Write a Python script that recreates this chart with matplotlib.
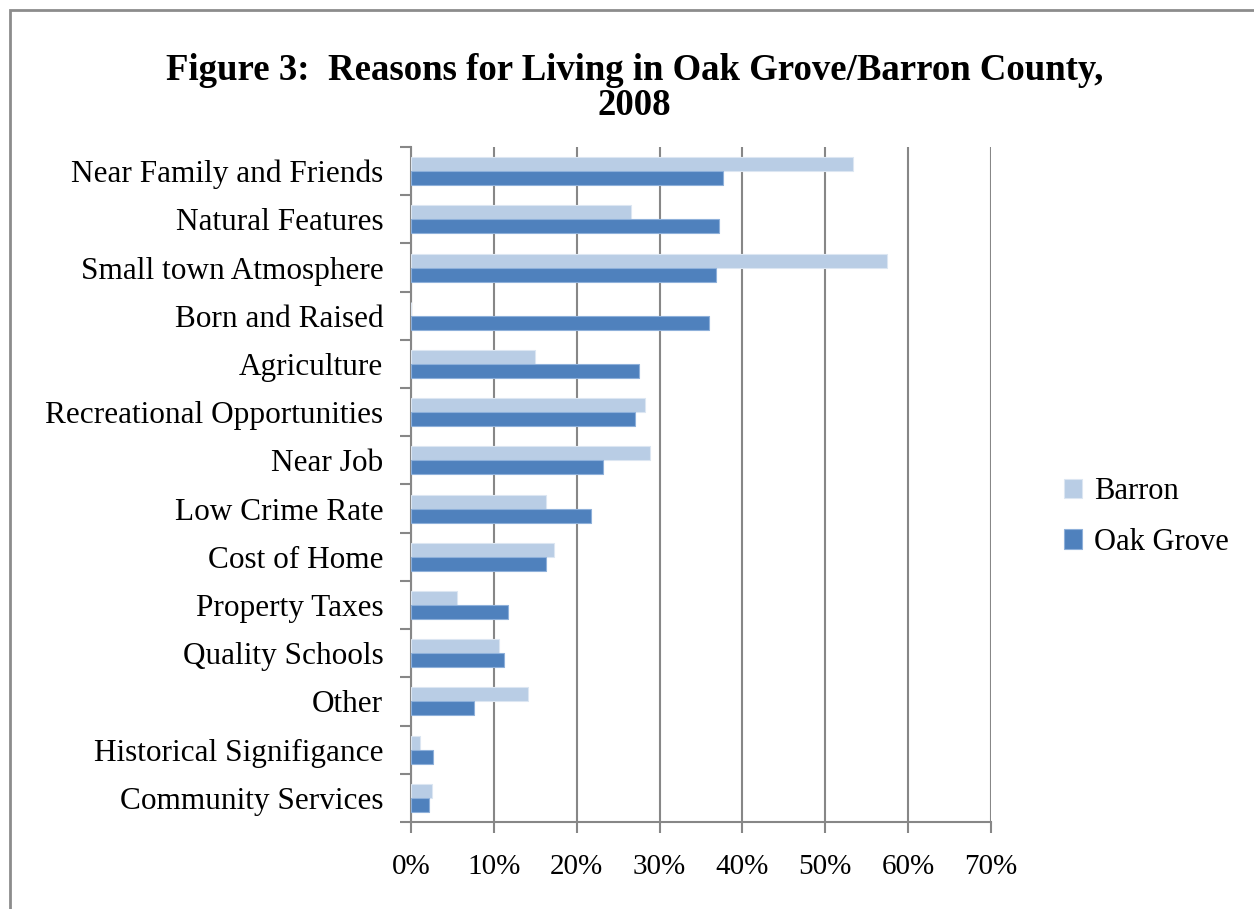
import numpy as np
import matplotlib.pyplot as plt
from matplotlib.patches import Rectangle

plt.rcParams['font.family'] = ['Liberation Serif', 'DejaVu Serif']

categories = ["Near Family and Friends", "Natural Features", "Small town Atmosphere",
              "Born and Raised", "Agriculture", "Recreational Opportunities", "Near Job",
              "Low Crime Rate", "Cost of Home", "Property Taxes", "Quality Schools",
              "Other", "Historical Signifigance", "Community Services"]
barron = [53.3, 26.6, 57.5, 0.0, 14.9, 28.2, 28.8, 16.3, 17.3, 5.6, 10.6, 14.1, 1.1, 2.5]
oak_grove = [37.6, 37.2, 36.8, 36.0, 27.5, 27.0, 23.2, 21.7, 16.3, 11.7, 11.2, 7.6, 2.7, 2.2]
xticks = [0, 10, 20, 30, 40, 50, 60, 70]

fig = plt.figure(figsize=(12.54, 9.09), dpi=100)
ax = fig.add_axes([0.3278, 0.0957, 0.4625, 0.7426])

y = np.arange(len(categories))
h = 0.29
ax.barh(y - h / 2, barron, height=h, color='#B9CDE5', edgecolor='#DCE6F2', linewidth=0.8, label='Barron', zorder=3)
ax.barh(y + h / 2, oak_grove, height=h, color='#4F81BD', edgecolor='#8EB0DA', linewidth=0.8, label='Oak Grove', zorder=3)

ax.set_ylim(len(categories) - 0.5, -0.5)
ax.set_xlim(0, 70)
ax.set_yticks(y)
ax.set_yticklabels(categories, fontsize=22.5)
ax.set_yticks(np.arange(len(categories) + 1) - 0.5, minor=True)
ax.tick_params(axis='y', which='major', length=0, pad=20)
ax.tick_params(axis='y', which='minor', length=8, width=1.5, color='#878787')
ax.set_xticks(xticks)
ax.set_xticklabels([f"{t}%" for t in xticks], fontsize=21)
ax.tick_params(axis='x', length=8, width=1.5, color='#878787', pad=15)

ax.grid(axis='x', color='#878787', linewidth=1.5, zorder=0)
for s in ['top', 'right']:
    ax.spines[s].set_visible(False)
for s in ['left', 'bottom']:
    ax.spines[s].set_color('#878787')
    ax.spines[s].set_linewidth(1.5)

fig.text(0.506, 0.903, "Figure 3:  Reasons for Living in Oak Grove/Barron County,\n2008",
         ha='center', va='center', fontsize=26.5, fontweight='bold', linespacing=1.0)

fig.legend(loc='center left', bbox_to_anchor=(1036 / 1254, 1 - 517 / 909), frameon=False,
           fontsize=22, handlelength=0.6, handleheight=0.6, handletextpad=0.4, labelspacing=0.7)

fig.patches.append(Rectangle((10 / 1254, -0.05), 1.0, 1 - 10 / 909 + 0.05, transform=fig.transFigure,
                             fill=False, edgecolor='#8C8C8C', linewidth=2))

fig.savefig('out.png', dpi=100)
